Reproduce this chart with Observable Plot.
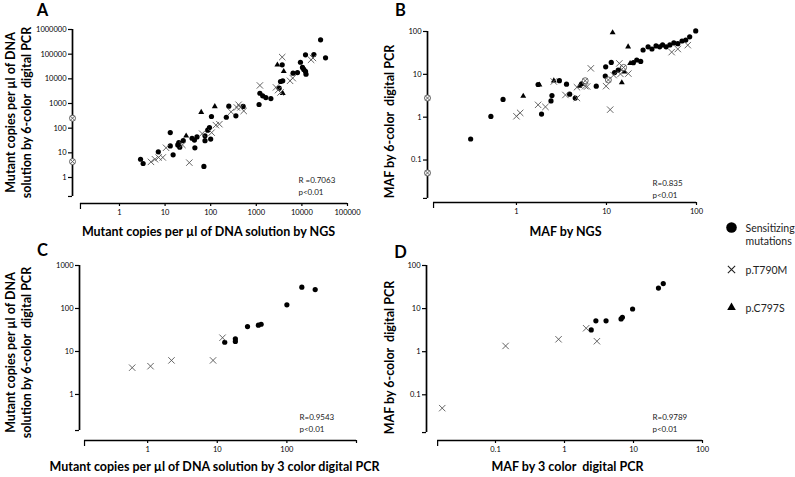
<!DOCTYPE html>
<html><head><meta charset="utf-8">
<script src="https://cdn.jsdelivr.net/npm/d3@7"></script>
<script src="https://cdn.jsdelivr.net/npm/@observablehq/plot@0.6"></script>
<style>
body{margin:0;background:#fff;}
#chart{position:relative;width:795px;height:477px;background:#fff;overflow:hidden;}
</style></head><body><div id="chart"></div>
<script>
// ---------- DATA (x, y) ----------
// Panel A: mutant copies per µl, NGS (x) vs 6-color digital PCR (y)
const aSensitizing = [[2.9,5.5],[3.3,3.7],[7.1,11],[13,66],[13,19],[15,8.3],[19,21],[20,26],[21,17],[25,31],[39,39],[44,33],[45,16],[50,44],[71,2.8],[75,31],[86,83],[94,106],[75,49],[100,36],[104,297],[220,277],[250,780],[357,316],[515,760],[1150,910],[1200,2600],[1380,2040],[1620,1740],[2090,1590],[3170,4200],[3400,7800],[3800,8300],[3700,37000],[6400,17000],[8000,18000],[9300,47000],[10300,29000],[11000,24000],[12000,20000],[12300,15500],[12000,94000],[18300,96000],[25700,380000],[33000,71000]];
const aT790M = [[4.9,4.3],[6,5.5],[7.2,6.5],[8.9,6.5],[10.5,16],[24,21],[34,4],[65,60],[105,66],[130,133],[155,145],[280,460],[375,690],[410,890],[450,700],[530,500],[1200,5400],[2700,4500],[3000,3500],[3400,2800],[3700,76000],[5500,8300],[6300,10700],[15900,59000],[17500,70000]];
const aC797S = [[29,49],[62,445],[123,760],[2900,37000],[4000,20000],[3800,2600]];
const aOnAxis = [254, 4.4];
// Panel B: MAF, NGS (x) vs 6-color digital PCR (y)
const bSensitizing = [[0.31,0.31],[0.52,1.04],[0.71,2.6],[1.9,1.18],[1.74,5.8],[2.42,2.4],[2.48,3.2],[3.0,7.1],[3.6,5.9],[3.9,3.45],[4.5,2.8],[5.3,6],[7.7,5.3],[9.7,9.1],[9.8,15],[11.3,19],[12.3,11],[13.5,12.6],[15,14],[19.9,18.7],[21.7,21.6],[24,20],[25.5,37],[29,44],[32,39],[35.5,46],[39,44],[42,48.5],[46,44],[50.6,48.5],[56,54],[62,52],[69,60],[76,63],[84,75],[98,103]];
const bT790M = [[1.0,1.05],[1.1,1.26],[1.74,1.94],[2.1,1.74],[2.6,6.8],[3.5,3.3],[4.7,2.8],[4.7,5.0],[5.8,5.3],[6.1,5.2],[6.7,13.8],[9.9,5.3],[11,1.5],[12,9.6],[13.9,18],[14.3,10.2],[17.5,10.4],[53,33],[62,39],[80,48]];
const bC797S = [[1.19,3.1],[1.8,5.7],[2.6,7.1],[5.0,5.3],[11.7,94],[14.8,6.4],[15.8,11.5],[17.4,44],[18.3,18]];
const bOverlap = [[5.8,7.1],[10.5,7.4],[15.5,14.5]];
const bOnAxis = [2.8, 0.05];
// Panel C: mutant copies per µl, 3-color (x) vs 6-color digital PCR (y)
const cSensitizing = [[12.8,16.4],[18.2,19.7],[18.2,17.1],[27.2,38],[39,41],[42.7,43],[100,122],[164,313],[255,276]];
const cT790M = [[0.6,4.2],[1.1,4.55],[2.2,6.2],[8.7,6.2],[11.9,20.9]];
// Panel D: MAF, 3-color (x) vs 6-color digital PCR (y)
const dSensitizing = [[2.44,3.2],[2.85,5.2],[4.0,5.2],[6.6,5.75],[6.9,6.3],[9.7,9.8],[23,30],[27,38]];
const dT790M = [[0.0169,0.049],[0.14,1.36],[0.82,1.94],[2.06,3.5],[2.95,1.75]];
// Tick labels
const ticksA_x = [1,10,100,1000,10000,100000];
const ticksA_y = [1,10,100,1000,10000,100000,1000000];
const ticksB_x = [1,10,100];
const ticksB_y = [0.1,1,10,100];
const ticksC_x = [1,10,100];
const ticksC_y = [1,10,100,1000];
const ticksD_x = [0.1,1,10,100];
const ticksD_y = [0.1,1,10,100];
const legendLabels = ["Sensitizing\nmutations","p.T790M","p.C797S"];
const stats = {A:["R =0.7063","p<0.01"],B:["R=0.835","p<0.01"],C:["R=0.9543","p<0.01"],D:["R=0.9789","p<0.01"]};

// ---------- RENDER ----------
const FONT = "Lato, 'Open Sans', sans-serif";
const W = 795, H = 477;
const chart = document.getElementById("chart");
const svgStyle = {position:"absolute", left:"0px", top:"0px", background:"none", overflow:"visible", fontFamily: FONT, color:"#000"};
const xy = {x: d => d[0], y: d => d[1]};
const crossColor = "#555";

function panel(p) {
  const [left, right, top, bottom] = p.frame;
  const marks = [
    Plot.ruleX([p.xDomain[0]], {y1: p.yAxisFrom, y2: p.yDomain[1], stroke:"#000", strokeWidth:1.7}),
    Plot.ruleY([p.yDomain[0]], {x1: p.xAxisFrom, x2: p.xAxisTo, stroke:"#000", strokeWidth:1.7}),
    Plot.axisY({anchor:"left", ticks:[...p.yTicks, p.yAxisFrom], tickSize:4, tickPadding:2, strokeWidth:1.2,
      tickFormat: d => p.yTicks.includes(d) ? String(d) : "", fontSize:7.5, label:null}),
    Plot.axisX({anchor:"bottom", ticks:p.xTicks, tickSize:3, tickPadding:3, strokeWidth:1.2,
      tickFormat: d => p.xLabels.includes(d) ? String(d) : "", fontSize:7.5, label:null}),
    Plot.axisX({anchor:"bottom", ticks:[p.xAxisFrom], tickSize:6, strokeWidth:1.2, tickFormat: () => "", label:null})
  ];
  if (p.onAxis) {
    marks.push(Plot.dot(p.onAxis, {x: () => p.xDomain[0], y: d => d, r:3, stroke:crossColor, fill:"white", strokeWidth:0.9}));
    marks.push(Plot.dot(p.onAxis, {x: () => p.xDomain[0], y: d => d, r:2.2, symbol:"times", stroke:crossColor, strokeWidth:0.9}));
  }
  if (p.sens) marks.push(Plot.dot(p.sens, {...xy, r:2.6, fill:"#000", symbol:"circle"}));
  if (p.c797s) marks.push(Plot.dot(p.c797s, {...xy, r:2.2, fill:"#000", symbol:"triangle"}));
  if (p.overlap) {
    marks.push(Plot.dot(p.overlap, {...xy, r:3, stroke:crossColor, fill:"white", strokeWidth:0.9}));
    marks.push(Plot.dot(p.overlap, {...xy, r:2.2, symbol:"times", stroke:crossColor, strokeWidth:0.9}));
  }
  if (p.t790m) marks.push(Plot.dot(p.t790m, {...xy, r:3, symbol:"times", stroke:crossColor, strokeWidth:0.9}));
  return Plot.plot({
    width:W, height:H, marginLeft:left, marginRight:W-right, marginTop:top, marginBottom:H-bottom,
    x:{type:"log", domain:p.xDomain}, y:{type:"log", domain:p.yDomain},
    style: svgStyle, marks
  });
}

chart.append(panel({frame:[72,347,29,203], xDomain:[0.0933,1e5], yDomain:[0.0883,1e6], yAxisFrom:0.17, xAxisFrom:0.1395, xAxisTo:1e5,
  xTicks:ticksA_x, xLabels:ticksA_x, yTicks:ticksA_y, sens:aSensitizing, t790m:aT790M, c797s:aC797S, onAxis:aOnAxis}));
chart.append(panel({frame:[427,696,31,202], xDomain:[0.1028,100], yDomain:[0.0102,100], yAxisFrom:0.0127, xAxisFrom:0.12, xAxisTo:100,
  xTicks:ticksB_x, xLabels:ticksB_x, yTicks:ticksB_y, sens:bSensitizing, t790m:bT790M, c797s:bC797S, overlap:bOverlap, onAxis:bOnAxis}));
chart.append(panel({frame:[79,356,265,440], xDomain:[0.105,1000], yDomain:[0.085,1000], yAxisFrom:0.145, xAxisFrom:0.124, xAxisTo:1000,
  xTicks:[...ticksC_x, 1000], xLabels:ticksC_x, yTicks:ticksC_y, sens:cSensitizing, t790m:cT790M}));
chart.append(panel({frame:[426,702,265,440], xDomain:[0.01,100], yDomain:[0.0087,100], yAxisFrom:0.0133, xAxisFrom:0.0145, xAxisTo:100,
  xTicks:ticksD_x, xLabels:ticksD_x, yTicks:ticksD_y, sens:dSensitizing, t790m:dT790M}));

// ---------- TEXT & LEGEND OVERLAY ----------
const T = (text, x, y, o = {}) => Plot.text([text], {text: d => d, frameAnchor:"top-left", dx:x, dy:y, fontFamily:FONT, fill:"#000", lineAnchor:"middle", ...o});
const bold = {fontWeight:"bold", fontSize:12.5, textAnchor:"middle"};
const rot = {...bold, rotate:-90, lineHeight:1.25};
const small = {fontSize:8, textAnchor:"start", fill:"#222"};
const leg = {fontSize:10.5, textAnchor:"start", fill:"#222", lineHeight:1.25};
const overlay = [
  T("A", 42, 10, {fontWeight:"bold", fontSize:16.5, textAnchor:"middle"}),
  T("B", 400, 10, {fontWeight:"bold", fontSize:16.5, textAnchor:"middle"}),
  T("C", 42, 250, {fontWeight:"bold", fontSize:16.5, textAnchor:"middle"}),
  T("D", 400, 252, {fontWeight:"bold", fontSize:16.5, textAnchor:"middle"}),
  T("Mutant copies per µl of DNA\nsolution by 6-color  digital PCR", 17.5, 112, rot),
  T("MAF by 6-color  digital PCR", 388, 121, rot),
  T("Mutant copies per µl of DNA\nsolution by 6-color  digital PCR", 17.5, 352, rot),
  T("MAF by 6-color  digital PCR", 388, 357, rot),
  T("Mutant copies per µl of DNA solution by NGS", 208, 231, bold),
  T("MAF by NGS", 565, 231, bold),
  T("Mutant copies per µl of DNA solution by 3 color digital PCR", 214, 466, bold),
  T("MAF by 3 color  digital PCR", 567, 466, bold),
  T(stats.A[0], 298, 180, small), T(stats.A[1], 298, 192, small),
  T(stats.B[0], 652, 183, small), T(stats.B[1], 652, 195, small),
  T(stats.C[0], 299, 417, small), T(stats.C[1], 299, 429, small),
  T(stats.D[0], 652, 417, small), T(stats.D[1], 652, 429, small),
  Plot.dot([0], {frameAnchor:"top-left", dx:731, dy:227, r:5.3, fill:"#000"}),
  Plot.dot([0], {frameAnchor:"top-left", dx:731, dy:269, r:3.4, symbol:"times", stroke:"#222", strokeWidth:1.1}),
  Plot.dot([0], {frameAnchor:"top-left", dx:731, dy:307, r:3.2, symbol:"triangle", fill:"#000"}),
  T(legendLabels[0], 745, 233.5, leg),
  T(legendLabels[1], 745, 269, leg),
  T(legendLabels[2], 745, 307, leg)
];
chart.append(Plot.plot({width:W, height:H, margin:0, style:svgStyle, marks:overlay}));
</script></body></html>
